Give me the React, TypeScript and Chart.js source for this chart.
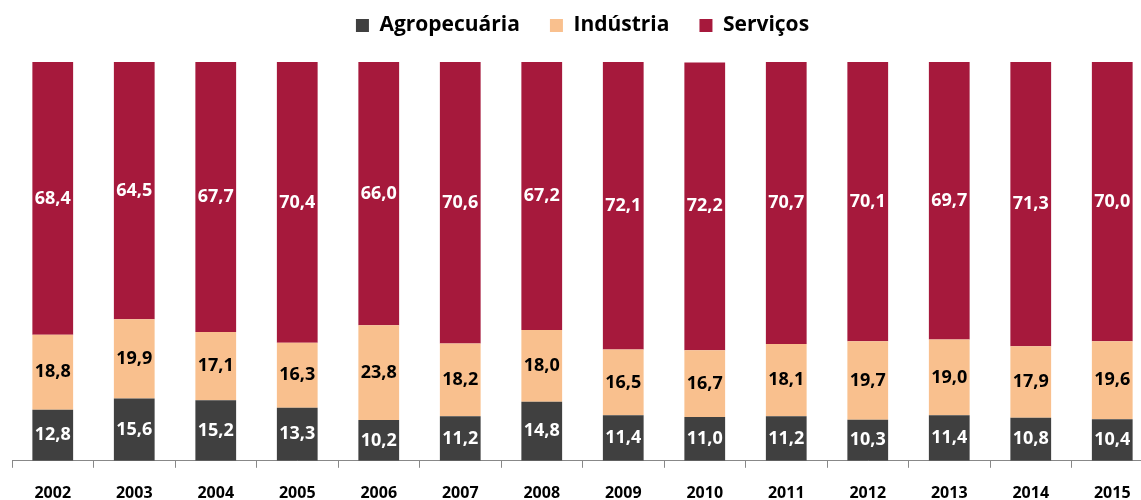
import React, { useEffect, useRef } from "react";
import { Chart, registerables } from "chart.js";

Chart.register(...registerables);

const years = ["2002","2003","2004","2005","2006","2007","2008","2009","2010","2011","2012","2013","2014","2015"];
const agro = [12.8, 15.6, 15.2, 13.3, 10.2, 11.2, 14.8, 11.4, 11.0, 11.2, 10.3, 11.4, 10.8, 10.4];
const industria = [18.8, 19.9, 17.1, 16.3, 23.8, 18.2, 18.0, 16.5, 16.7, 18.1, 19.7, 19.0, 17.9, 19.6];
const servicos = [68.4, 64.5, 67.7, 70.4, 66.0, 70.6, 67.2, 72.1, 72.2, 70.7, 70.1, 69.7, 71.3, 70.0];

const FONT = "'Open Sans', Lato, sans-serif";

const labelPlugin = {
  id: "segLabels",
  afterDatasetsDraw(chart: any) {
    const ctx = chart.ctx;
    ctx.save();
    ctx.font = `bold 18px ${FONT}`;
    ctx.textAlign = "center";
    ctx.textBaseline = "middle";
    chart.data.datasets.forEach((ds: any, i: number) => {
      const meta = chart.getDatasetMeta(i);
      meta.data.forEach((bar: any, j: number) => {
        const v = ds.data[j];
        const y = (bar.y + bar.base) / 2;
        ctx.fillStyle = ds.labelColor;
        ctx.fillText(v.toFixed(1).replace(".", ","), bar.x, y);
      });
    });
    ctx.restore();
  },
};

const legendGap = {
  id: "legendGap",
  beforeInit(chart: any) {
    const lg = chart.legend;
    if (!lg) return;
    const fit = lg.fit;
    lg.fit = function () {
      fit.call(this);
      this.height += 16;
    };
  },
};

export default function App() {
  const ref = useRef<HTMLCanvasElement>(null);
  useEffect(() => {
    const chart = new Chart(ref.current!, {
      type: "bar",
      data: {
        labels: years,
        datasets: [
          { label: "Agropecuária", data: agro, backgroundColor: "#404040", labelColor: "#ffffff" } as any,
          { label: "Indústria", data: industria, backgroundColor: "#F9C08E", labelColor: "#000000" } as any,
          { label: "Serviços", data: servicos, backgroundColor: "#A6193C", labelColor: "#ffffff" } as any,
        ],
      },
      options: {
        responsive: false,
        animation: false,
        maintainAspectRatio: false,
        layout: { padding: { left: 12, right: 0, top: 0, bottom: 0 } },
        datasets: { bar: { categoryPercentage: 1, barPercentage: 0.5 } },
        plugins: {
          legend: {
            position: "top",
            labels: {
              boxWidth: 13,
              boxHeight: 13,
              padding: 30,
              color: "#000",
              font: { family: FONT, size: 21, weight: "bold" },
            },
          },
          tooltip: { enabled: false },
        },
        scales: {
          x: {
            stacked: true,
            border: { color: "#888", width: 1 },
            grid: { drawOnChartArea: false, drawTicks: true, tickLength: 7, color: "#888", offset: true },
            ticks: { color: "#000", padding: 16, font: { family: FONT, size: 16, weight: "bold" } },
          },
          y: { stacked: true, display: false, min: 0, max: 100 },
        },
      },
      plugins: [labelPlugin, legendGap],
    });
    return () => chart.destroy();
  }, []);
  return (
    <div style={{ position: "fixed", left: 0, top: 0, width: 1141, height: 500, overflow: "hidden", background: "#fff" }}>
      <canvas ref={ref} width={1153} height={534} style={{ display: "block", position: "absolute", left: 0, top: -15 }} />
    </div>
  );
}
